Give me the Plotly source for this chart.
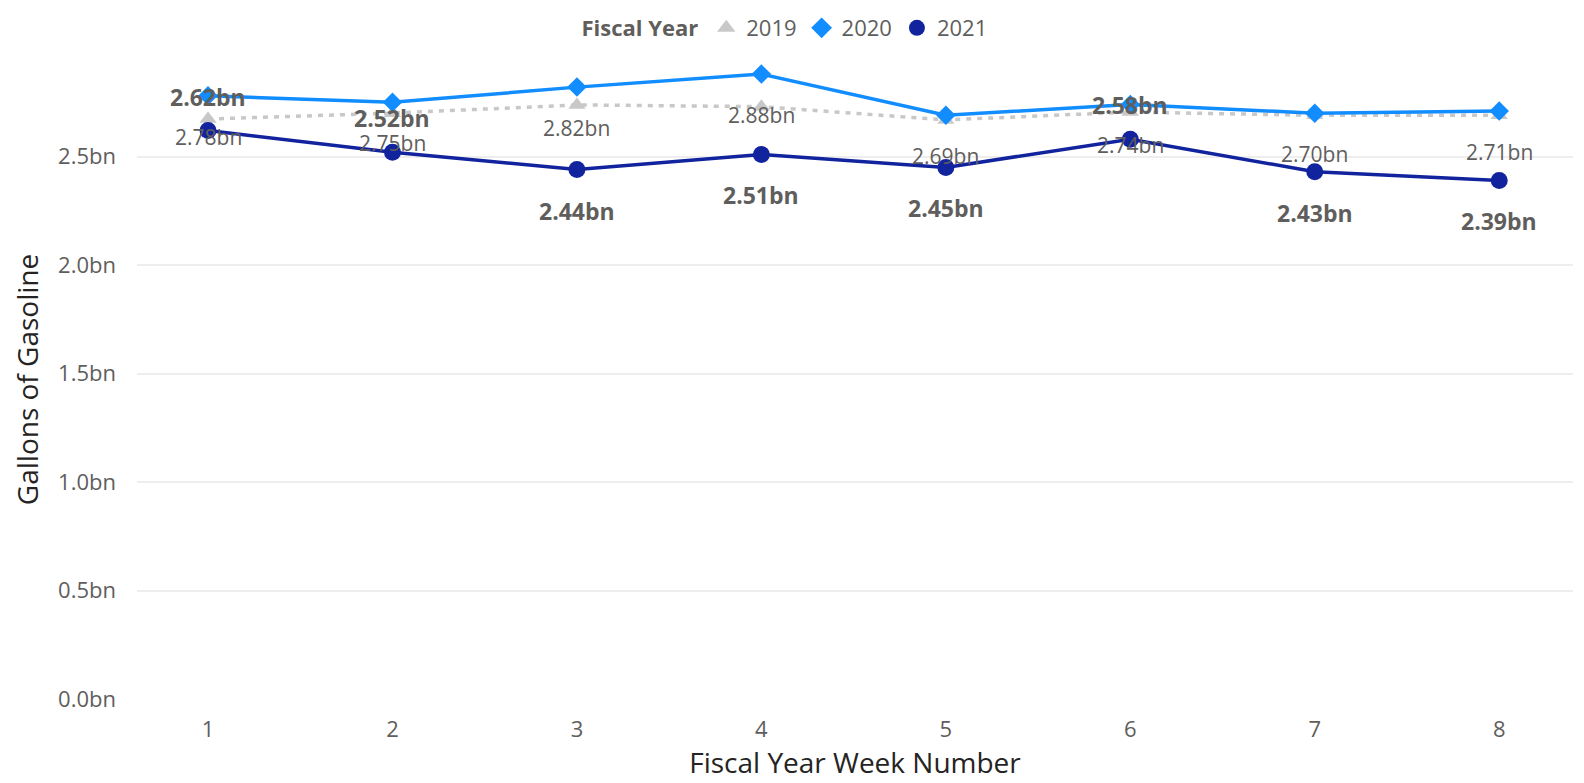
import plotly.graph_objects as go

weeks = [1, 2, 3, 4, 5, 6, 7, 8]
fy2019 = [2.673, 2.70, 2.738, 2.73, 2.669, 2.705, 2.69, 2.69]
fy2020 = [2.78, 2.75, 2.82, 2.88, 2.69, 2.74, 2.70, 2.71]
fy2021 = [2.62, 2.52, 2.44, 2.51, 2.45, 2.58, 2.43, 2.39]
label_above_2021 = [True, True, False, False, False, True, False, False]

FONT = "Open Sans"
GRAY = "#605E5C"
C19, C20, C21 = "#C8C8C8", "#118DFF", "#12239E"

fig = go.Figure()
fig.add_trace(go.Scatter(
    x=weeks, y=fy2019, name="2019", mode="lines+markers", showlegend=False,
    line=dict(color=C19, width=3.5, dash="5px,6px"),
    marker=dict(symbol="triangle-up", size=15, color=C19),
))
fig.add_trace(go.Scatter(
    x=weeks, y=fy2020, name="2020", mode="lines+markers", showlegend=False,
    line=dict(color=C20, width=3.5),
    marker=dict(symbol="diamond", size=15, color=C20),
))
fig.add_trace(go.Scatter(
    x=weeks, y=fy2021, name="2021", mode="lines+markers", showlegend=False,
    line=dict(color=C21, width=3.5),
    marker=dict(symbol="circle", size=17, color=C21),
))
# legend entries (markers only, as in the reference)
for name, sym, col in [("2019", "triangle-up", C19), ("2020", "diamond", C20), ("2021", "circle", C21)]:
    fig.add_trace(go.Scatter(x=[None], y=[None], name=name, mode="markers",
                             marker=dict(symbol=sym, size=18, color=col)))

for w, v in zip(weeks, fy2020):
    fig.add_annotation(x=w, y=v, text=f"{v:.2f}bn", showarrow=False,
                       yshift=-41, font=dict(family=FONT, size=21, color=GRAY))
for w, v, above in zip(weeks, fy2021, label_above_2021):
    fig.add_annotation(x=w, y=v, text=f"<b>{v:.2f}bn</b>", showarrow=False,
                       yshift=34 if above else -41,
                       font=dict(family=FONT, size=23, color=GRAY))

# page body has an 8px default margin -> figure drawn 8px right/down
W, H = 1576, 775
fig.update_layout(
    width=W, height=H,
    margin=dict(l=129, r=11, t=52, b=84),
    plot_bgcolor="white", paper_bgcolor="white",
    font=dict(family=FONT, color=GRAY),
    showlegend=True,
    legend=dict(
        orientation="h", xref="container", yref="container",
        x=778 / W, xanchor="center", y=1 - 20 / H, yanchor="middle",
        title=dict(text="<b>Fiscal Year</b>", font=dict(size=22, color=GRAY)),
        font=dict(size=22, color=GRAY), itemwidth=30,
    ),
    xaxis=dict(
        range=[0.615, 8.4], tickvals=weeks, ticktext=[str(w) for w in weeks],
        showgrid=False, zeroline=False, showline=False,
        tickfont=dict(size=22, color=GRAY), ticklabelstandoff=15,
        title=dict(text="Fiscal Year Week Number", font=dict(size=28, color="#252423"), standoff=8),
    ),
    yaxis=dict(
        range=[0, 2.945], tickvals=[0, 0.5, 1.0, 1.5, 2.0, 2.5],
        ticktext=["0.0bn", "0.5bn", "1.0bn", "1.5bn", "2.0bn", "2.5bn"],
        showgrid=True, gridcolor="#EEEEEE", gridwidth=1.5, zeroline=False,
        tickfont=dict(size=22, color=GRAY), ticklabelstandoff=20,
        title=dict(text="Gallons of Gasoline", font=dict(size=28, color="#252423"), standoff=21),
    ),
)

fig.write_html("out.html")
